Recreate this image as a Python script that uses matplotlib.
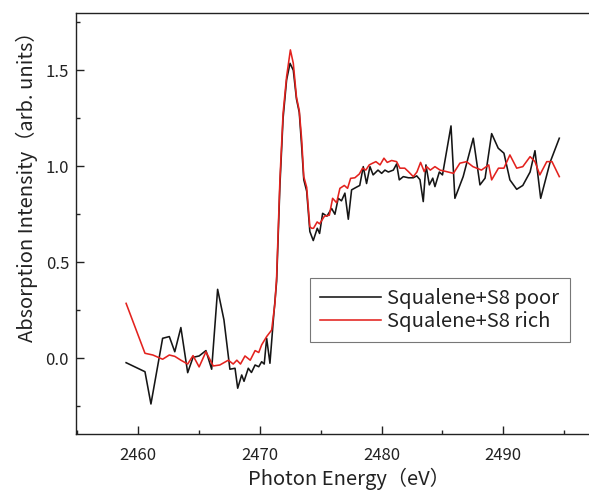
import matplotlib
matplotlib.use('Agg')
import matplotlib.pyplot as plt
from matplotlib.ticker import MultipleLocator

plt.rcParams['font.family'] = ['Noto Sans CJK JP', 'DejaVu Sans']

# Squalene + S8 poor (black)
energy_poor = [2459.0, 2460.55, 2461.04, 2462.0, 2462.55, 2463.0, 2463.5, 2464.06,
               2464.5, 2465.0, 2465.56, 2466.03, 2466.52, 2467.04, 2467.53, 2467.95,
               2468.17, 2468.5, 2468.69, 2469.04, 2469.3, 2469.6, 2469.9, 2470.14,
               2470.35, 2470.55, 2470.82, 2471.1, 2471.37, 2471.64, 2471.9, 2472.19,
               2472.47, 2472.74, 2473.0, 2473.23, 2473.43, 2473.6, 2473.84, 2474.1,
               2474.38, 2474.71, 2474.9, 2475.15, 2475.5, 2475.89, 2476.16, 2476.43,
               2476.7, 2476.98, 2477.26, 2477.53, 2477.9, 2478.2, 2478.49, 2478.76,
               2479.04, 2479.3, 2479.7, 2480.0, 2480.27, 2480.55, 2480.96, 2481.23,
               2481.45, 2481.78, 2482.2, 2482.6, 2482.88, 2483.15, 2483.42, 2483.64,
               2483.92, 2484.2, 2484.38, 2484.74, 2485.0, 2485.7, 2486.02, 2486.7,
               2487.53, 2488.08, 2488.5, 2489.04, 2489.58, 2490.05, 2490.54, 2491.1,
               2491.6, 2492.2, 2492.6, 2493.07, 2493.84, 2494.6]
intensity_poor = [-0.023, -0.07, -0.238, 0.104, 0.113, 0.034, 0.16, -0.075,
                  0.005, 0.012, 0.04, -0.057, 0.359, 0.2, -0.057, -0.052,
                  -0.156, -0.087, -0.12, -0.052, -0.074, -0.035, -0.044, -0.018,
                  -0.03, 0.104, -0.026, 0.2, 0.40, 0.90, 1.25, 1.45,
                  1.536, 1.50, 1.35, 1.28, 1.10, 0.93, 0.87, 0.66,
                  0.613, 0.677, 0.65, 0.755, 0.74, 0.78, 0.75, 0.833,
                  0.82, 0.86, 0.724, 0.877, 0.89, 0.90, 0.998, 0.91,
                  0.998, 0.955, 0.98, 0.963, 0.98, 0.97, 0.98, 1.012,
                  0.929, 0.946, 0.94, 0.94, 0.95, 0.93, 0.816, 1.007,
                  0.903, 0.938, 0.894, 0.97, 0.955, 1.21, 0.833, 0.946,
                  1.146, 0.903, 0.938, 1.17, 1.094, 1.068, 0.929, 0.88,
                  0.90, 0.97, 1.081, 0.833, 1.02, 1.146]

# Squalene + S8 rich (red)
energy_rich = [2459.0, 2460.55, 2461.2, 2462.0, 2462.55, 2463.0, 2463.5, 2464.06,
               2464.5, 2465.0, 2465.56, 2466.16, 2466.7, 2467.4, 2467.8, 2468.1,
               2468.4, 2468.77, 2469.2, 2469.6, 2469.9, 2470.14, 2470.55, 2470.96,
               2471.23, 2471.37, 2471.64, 2471.9, 2472.19, 2472.5, 2472.74, 2473.0,
               2473.23, 2473.43, 2473.6, 2473.84, 2474.1, 2474.25, 2474.4, 2474.7,
               2474.9, 2475.3, 2475.7, 2475.97, 2476.3, 2476.57, 2476.93, 2477.2,
               2477.45, 2477.8, 2478.17, 2478.43, 2478.7, 2478.98, 2479.26, 2479.53,
               2479.87, 2480.19, 2480.46, 2480.82, 2481.23, 2481.5, 2481.9, 2482.2,
               2482.6, 2482.9, 2483.2, 2483.5, 2483.7, 2484.0, 2484.38, 2484.8,
               2485.34, 2485.9, 2486.43, 2486.98, 2487.5, 2488.2, 2488.8, 2489.04,
               2489.6, 2490.05, 2490.54, 2491.1, 2491.6, 2492.2, 2492.6, 2493.0,
               2493.57, 2494.0, 2494.6]
intensity_rich = [0.286, 0.026, 0.017, -0.005, 0.017, 0.01, -0.01, -0.03,
                  0.014, -0.045, 0.034, -0.04, -0.035, -0.01, -0.03, -0.01,
                  -0.03, 0.012, -0.01, 0.04, 0.03, 0.07, 0.113, 0.147,
                  0.286, 0.425, 0.93, 1.276, 1.467, 1.606, 1.536, 1.36,
                  1.29, 1.137, 0.946, 0.89, 0.685, 0.677, 0.677, 0.71,
                  0.70, 0.74, 0.745, 0.833, 0.81, 0.885, 0.9, 0.885,
                  0.937, 0.94, 0.96, 0.99, 0.98, 1.007, 1.016, 1.024,
                  1.007, 1.042, 1.02, 1.03, 1.024, 0.99, 0.99, 0.972,
                  0.946, 0.97, 1.02, 0.972, 0.998, 0.98, 0.998, 0.98,
                  0.972, 0.963, 1.016, 1.024, 0.998, 0.98, 1.007, 0.929,
                  0.99, 0.99, 1.059, 0.99, 0.998, 1.05, 1.024, 0.955,
                  1.024, 1.024, 0.946]

labels = ['Squalene+S8 poor', 'Squalene+S8 rich']

fig = plt.figure(figsize=(5.89, 4.95), dpi=100)
# the original frame runs past the right edge of the picture
ax = fig.add_axes([0.129, 0.1226, 0.928, 0.8511])

ax.plot(energy_poor, intensity_poor, color='#151515', lw=1.15, label=labels[0])
ax.plot(energy_rich, intensity_rich, color='#e3221e', lw=1.15, label=labels[1])

ax.set_xlim(2454.88, 2499.8)
ax.set_ylim(-0.396, 1.798)
ax.xaxis.set_major_locator(MultipleLocator(10))
ax.xaxis.set_minor_locator(MultipleLocator(5))
ax.yaxis.set_major_locator(MultipleLocator(0.5))
ax.yaxis.set_minor_locator(MultipleLocator(0.25))
ax.tick_params(which='both', direction='in', width=1.0, colors='#222222',
               labelsize=12, top=False, right=False)
ax.tick_params(which='major', length=6)
ax.tick_params(which='minor', length=3)
ax.tick_params(axis='x', pad=9)
ax.tick_params(axis='y', pad=5)
for side in ['left', 'bottom', 'top']:
    ax.spines[side].set_linewidth(1.0)
    ax.spines[side].set_color('#222222')
ax.spines['right'].set_visible(False)

ax.set_xlabel('Photon Energy\uff08eV\uff09', fontsize=14.5, color='#222222',
              labelpad=3)
ax.set_ylabel('Absorption Intensity\uff08arb. units\uff09', fontsize=14.5,
              color='#222222')
ax.yaxis.set_label_coords(-0.069, 0.60)

leg = ax.legend(loc='upper left', bbox_to_anchor=(0.428, 0.372),
                fontsize=14.5, frameon=True, fancybox=False,
                edgecolor='#555555', handlelength=3.05, handletextpad=0.3,
                borderpad=0.5, labelspacing=0.12, borderaxespad=0)
leg.get_frame().set_linewidth(0.8)
for t in leg.get_texts():
    t.set_color('#222222')

fig.savefig('out.png', dpi=100)
